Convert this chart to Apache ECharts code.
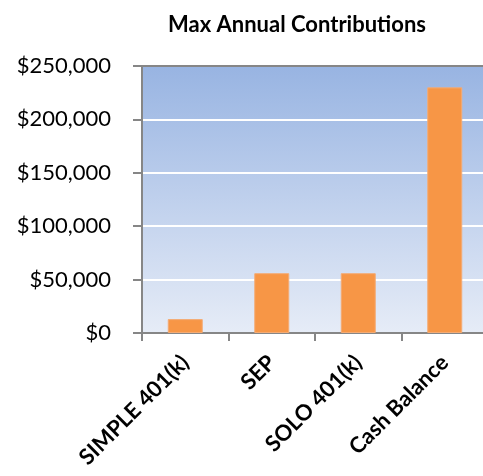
<!DOCTYPE html>
<html>
<head>
<meta charset="utf-8">
<script src="https://cdn.jsdelivr.net/npm/echarts@6/dist/echarts.min.js"></script>
<style>
  html, body { margin: 0; padding: 0; background: #fff; }
  #main { width: 483px; height: 476px; }
</style>
</head>
<body>
<div id="main"></div>
<script>
// plan names and max annual contribution ($)
const categories = ['SIMPLE 401(k)', 'SEP', 'SOLO 401(k)', 'Cash Balance']
const contributions = [13000, 56000, 56000, 230000]
const yTicks = [0, 50000, 100000, 150000, 200000, 250000]

const chart = echarts.init(document.getElementById('main'))

function money (v) {
  return '$' + v.toLocaleString('en-US')
}

const axisGray = { color: '#868686', width: 2 }

const option = {
  animation: false,
  title: {
    text: 'Max Annual Contributions',
    left: 292,
    top: 9,
    textAlign: 'center',
    textStyle: {
      fontFamily: 'Lato',
      fontWeight: 'bold',
      fontSize: 22,
      color: '#000'
    }
  },
  grid: {
    left: 142,
    top: 66,
    width: 346,
    height: 267,
    outerBoundsMode: 'none',
    containLabel: false,
    show: true,
    borderWidth: 0,
    backgroundColor: new echarts.graphic.LinearGradient(0, 0, 0, 1, [
      { offset: 0, color: '#98b4e2' },
      { offset: 1, color: '#e6ecf7' }
    ])
  },
  xAxis: [
    {
      type: 'category',
      data: categories,
      axisLine: { lineStyle: axisGray },
      axisTick: { show: true, length: 8, lineStyle: axisGray },
      axisLabel: {
        rotate: 45,
        margin: 26,
        interval: 0,
        fontFamily: 'Lato',
        fontWeight: 'bold',
        fontSize: 22,
        color: '#000'
      }
    },
    {
      // plain top border of the plot area
      type: 'category',
      position: 'top',
      data: categories,
      axisLine: { show: true, lineStyle: axisGray },
      axisTick: { show: false },
      axisLabel: { show: false }
    }
  ],
  yAxis: {
    type: 'value',
    min: yTicks[0],
    max: yTicks[yTicks.length - 1],
    interval: 50000,
    axisLine: { show: true, lineStyle: axisGray },
    axisTick: { show: true, length: 9, lineStyle: axisGray },
    axisLabel: {
      margin: 31,
      fontFamily: 'Lato',
      fontSize: 22,
      color: '#000',
      formatter: money
    },
    splitLine: {
      show: true,
      showMinLine: false,
      showMaxLine: false,
      lineStyle: { color: '#ffffff', width: 2 }
    }
  },
  series: [
    {
      type: 'bar',
      data: contributions,
      barWidth: 35,
      itemStyle: {
        color: '#f79646',
        borderColor: '#f4ab74',
        borderWidth: 1
      }
    }
  ]
}

chart.setOption(option)
</script>
</body>
</html>
